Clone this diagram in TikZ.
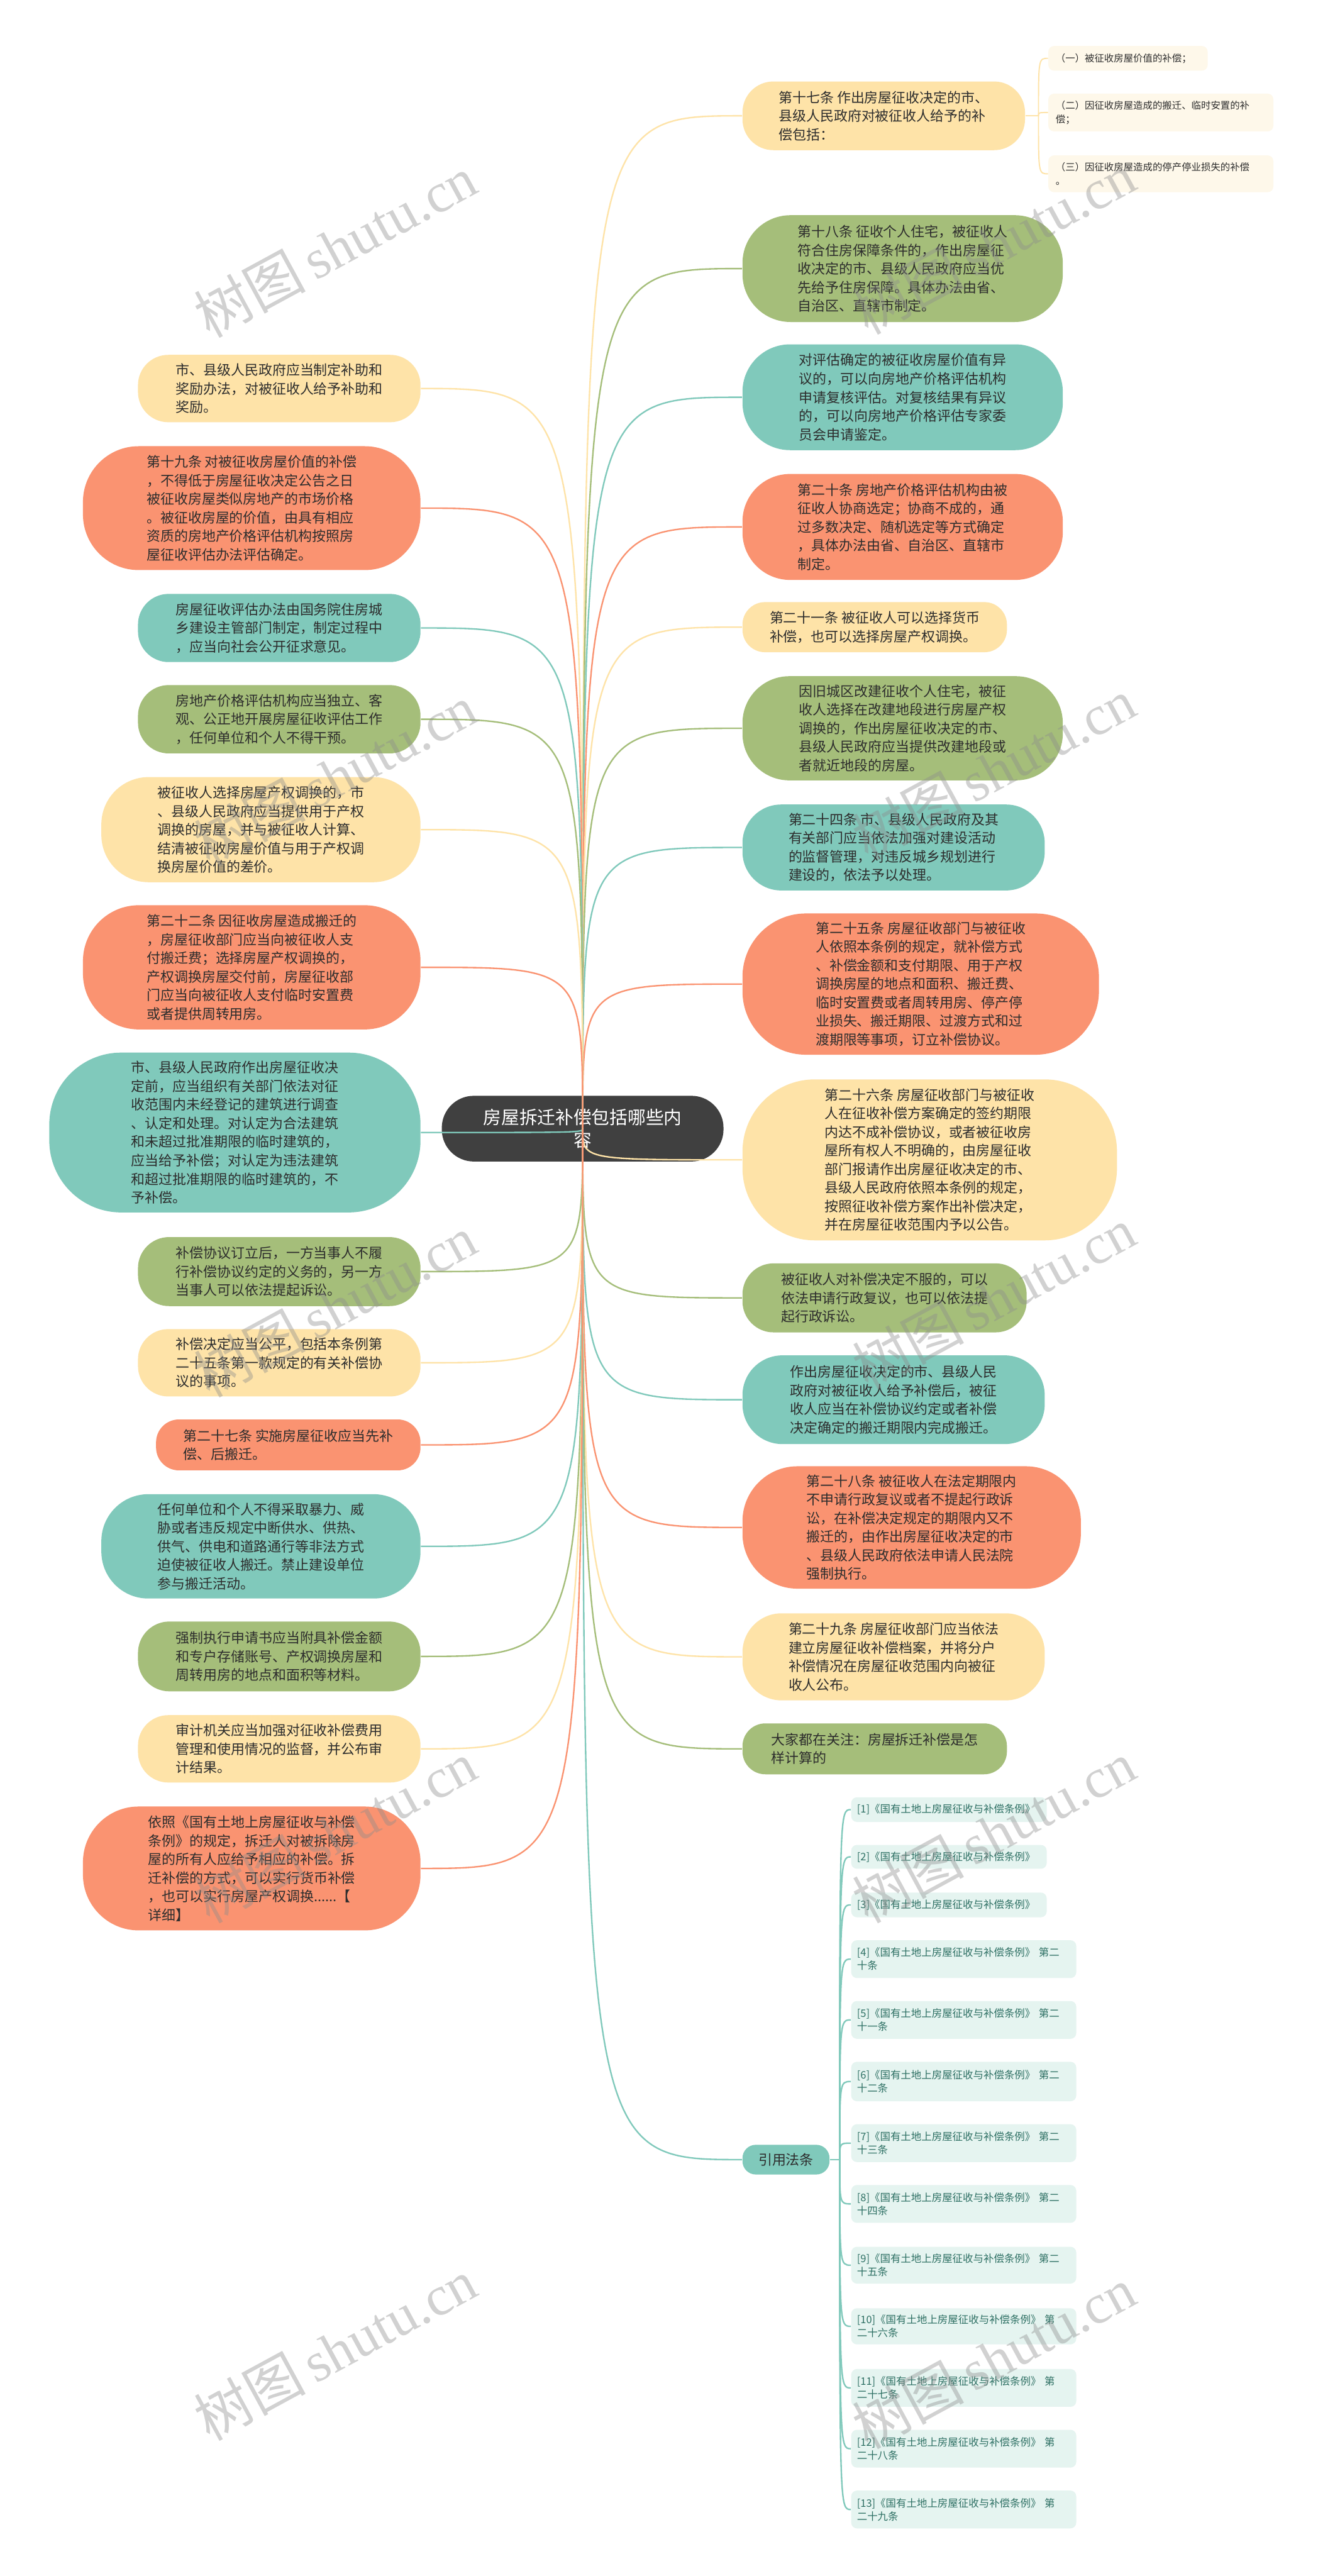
\documentclass[tikz,border=0pt]{standalone}
\usepackage{fontspec}
\setmainfont{Noto Sans CJK SC}
\newfontfamily\wmserif{Liberation Serif}
\usetikzlibrary{calc}
\definecolor{yel}{HTML}{FEE3A8}
\definecolor{grn}{HTML}{A5BE7A}
\definecolor{tea}{HTML}{80C9BB}
\definecolor{sal}{HTML}{FA9371}
\definecolor{rootc}{HTML}{404040}
\definecolor{txt}{HTML}{2D2D2D}
\definecolor{subfill}{HTML}{FEF8EA}
\definecolor{reffill}{HTML}{E5F4F0}
\definecolor{reftxt}{HTML}{2E7064}
\tikzset{
  bubble/.style={rectangle, inner sep=0pt, align=left, text=txt, font=\fontsize{8.4}{11.3}\selectfont},
  conn/.style={line width=0.9pt},
  subconn/.style={line width=0.75pt},
  refbox/.style={rectangle, rounded corners=3.5pt, fill=reffill, text=reftxt, align=left,
    font=\fontsize{6.3}{8}\selectfont, inner xsep=3.5pt, inner ysep=0pt, anchor=west},
  subbox/.style={rectangle, rounded corners=3.5pt, fill=subfill, text=txt, align=left,
    font=\fontsize{5.9}{8.4}\selectfont, inner xsep=4.5pt, inner ysep=0pt, anchor=west},
  wm/.style={rotate=28.5, text=black!45, opacity=0.4, inner sep=0pt}
}
\newcommand\bub[7]{%
  \pgfmathsetmacro\bubw{#3-#2}%
  \pgfmathsetmacro\bubh{#5-#4}%
  \pgfmathsetmacro\bubr{0.45*\bubh}%
  \pgfmathsetmacro\bubx{(#2+#3)/2}%
  \pgfmathsetmacro\buby{(#4+#5)/2}%
  \node[bubble, fill=#6, minimum width=\bubw pt, minimum height=\bubh pt, rounded corners=\bubr pt] (#1) at (\bubx,\buby) {#7};%
}
\newcommand\refn[5]{% name, top, bottom, right, text
  \pgfmathsetmacro\refw{#4-518-7}%
  \pgfmathsetmacro\refh{#3-#2}%
  \pgfmathsetmacro\refy{(#2+#3)/2}%
  \node[refbox, text width=\refw pt, minimum height=\refh pt] (#1) at (518,\refy) {#5};%
}
\begin{document}
\begin{tikzpicture}[x=1pt,y=-1pt]
\useasboundingbox (0,0) rectangle (802,1568);
\fill[white] (0,0) rectangle (802,1568);

% root
\node[rectangle, fill=rootc, text=white, rounded corners=19.5pt, minimum width=171.5pt, minimum height=40pt,
  inner sep=0pt, align=center, font=\fontsize{11}{13.6}\selectfont] (root) at (354.7,687) {房屋拆迁补偿包括哪些内\\容};

% right column
\bub{R1}{452}{624}{49.6}{91.4}{yel}{第十七条 作出房屋征收决定的市、\\县级人民政府对被征收人给予的补\\偿包括：}
\bub{R2}{452}{647}{131}{196}{grn}{第十八条 征收个人住宅，被征收人\\符合住房保障条件的，作出房屋征\\收决定的市、县级人民政府应当优\\先给予住房保障。具体办法由省、\\自治区、直辖市制定。}
\bub{R3}{452}{647}{209.6}{274}{tea}{对评估确定的被征收房屋价值有异\\议的，可以向房地产价格评估机构\\申请复核评估。对复核结果有异议\\的，可以向房地产价格评估专家委\\员会申请鉴定。}
\bub{R4}{452}{647}{288.5}{353}{sal}{第二十条 房地产价格评估机构由被\\征收人协商选定；协商不成的，通\\过多数决定、随机选定等方式确定\\，具体办法由省、自治区、直辖市\\制定。}
\bub{R5}{452}{613}{366.5}{397}{yel}{第二十一条 被征收人可以选择货币\\补偿，也可以选择房屋产权调换。}
\bub{R6}{452}{647}{411.6}{475}{grn}{因旧城区改建征收个人住宅，被征\\收人选择在改建地段进行房屋产权\\调换的，作出房屋征收决定的市、\\县级人民政府应当提供改建地段或\\者就近地段的房屋。}
\bub{R7}{452}{636}{489.7}{542}{tea}{第二十四条 市、县级人民政府及其\\有关部门应当依法加强对建设活动\\的监督管理，对违反城乡规划进行\\建设的，依法予以处理。}
\bub{R8}{452}{669}{556}{642}{sal}{第二十五条 房屋征收部门与被征收\\人依照本条例的规定，就补偿方式\\、补偿金额和支付期限、用于产权\\调换房屋的地点和面积、搬迁费、\\临时安置费或者周转用房、停产停\\业损失、搬迁期限、过渡方式和过\\渡期限等事项，订立补偿协议。}
\bub{R9}{452}{680}{657}{755}{yel}{第二十六条 房屋征收部门与被征收\\人在征收补偿方案确定的签约期限\\内达不成补偿协议，或者被征收房\\屋所有权人不明确的，由房屋征收\\部门报请作出房屋征收决定的市、\\县级人民政府依照本条例的规定，\\按照征收补偿方案作出补偿决定，\\并在房屋征收范围内予以公告。}
\bub{R10}{452}{625}{769}{811}{grn}{被征收人对补偿决定不服的，可以\\依法申请行政复议，也可以依法提\\起行政诉讼。}
\bub{R11}{452}{636}{825}{879}{tea}{作出房屋征收决定的市、县级人民\\政府对被征收人给予补偿后，被征\\收人应当在补偿协议约定或者补偿\\决定确定的搬迁期限内完成搬迁。}
\bub{R12}{452}{658}{892.5}{967}{sal}{第二十八条 被征收人在法定期限内\\不申请行政复议或者不提起行政诉\\讼，在补偿决定规定的期限内又不\\搬迁的，由作出房屋征收决定的市\\、县级人民政府依法申请人民法院\\强制执行。}
\bub{R13}{452}{636}{982}{1035}{yel}{第二十九条 房屋征收部门应当依法\\建立房屋征收补偿档案，并将分户\\补偿情况在房屋征收范围内向被征\\收人公布。}
\bub{R14}{452}{613}{1049}{1080}{grn}{大家都在关注：房屋拆迁补偿是怎\\样计算的}
\bub{R15}{452}{505}{1305.5}{1323.6}{tea}{引用法条}

% left column
\bub{L1}{84}{256}{216}{257}{yel}{市、县级人民政府应当制定补助和\\奖励办法，对被征收人给予补助和\\奖励。}
\bub{L2}{50.5}{256}{271.6}{347}{sal}{第十九条 对被征收房屋价值的补偿\\，不得低于房屋征收决定公告之日\\被征收房屋类似房地产的市场价格\\。被征收房屋的价值，由具有相应\\资质的房地产价格评估机构按照房\\屋征收评估办法评估确定。}
\bub{L3}{84}{256}{361.5}{403}{tea}{房屋征收评估办法由国务院住房城\\乡建设主管部门制定，制定过程中\\，应当向社会公开征求意见。}
\bub{L4}{84}{256}{417}{458.6}{grn}{房地产价格评估机构应当独立、客\\观、公正地开展房屋征收评估工作\\，任何单位和个人不得干预。}
\bub{L5}{61.7}{256}{473}{537}{yel}{被征收人选择房屋产权调换的，市\\、县级人民政府应当提供用于产权\\调换的房屋，并与被征收人计算、\\结清被征收房屋价值与用于产权调\\换房屋价值的差价。}
\bub{L6}{50.5}{256}{551}{626.6}{sal}{第二十二条 因征收房屋造成搬迁的\\，房屋征收部门应当向被征收人支\\付搬迁费；选择房屋产权调换的，\\产权调换房屋交付前，房屋征收部\\门应当向被征收人支付临时安置费\\或者提供周转用房。}
\bub{L7}{30}{256}{640.7}{738}{tea}{市、县级人民政府作出房屋征收决\\定前，应当组织有关部门依法对征\\收范围内未经登记的建筑进行调查\\、认定和处理。对认定为合法建筑\\和未超过批准期限的临时建筑的，\\应当给予补偿；对认定为违法建筑\\和超过批准期限的临时建筑的，不\\予补偿。}
\bub{L8}{84}{256}{753}{795}{grn}{补偿协议订立后，一方当事人不履\\行补偿协议约定的义务的，另一方\\当事人可以依法提起诉讼。}
\bub{L9}{84}{256}{809}{850}{yel}{补偿决定应当公平，包括本条例第\\二十五条第一款规定的有关补偿协\\议的事项。}
\bub{L10}{95}{256}{864}{895}{sal}{第二十七条 实施房屋征收应当先补\\偿、后搬迁。}
\bub{L11}{61.7}{256}{909.5}{973}{tea}{任何单位和个人不得采取暴力、威\\胁或者违反规定中断供水、供热、\\供气、供电和道路通行等非法方式\\迫使被征收人搬迁。禁止建设单位\\参与搬迁活动。}
\bub{L12}{84}{256}{987}{1029.5}{grn}{强制执行申请书应当附具补偿金额\\和专户存储账号、产权调换房屋和\\周转用房的地点和面积等材料。}
\bub{L13}{84}{256}{1044}{1085}{yel}{审计机关应当加强对征收补偿费用\\管理和使用情况的监督，并公布审\\计结果。}
\bub{L14}{50.5}{256}{1099.6}{1175}{sal}{依照《国有土地上房屋征收与补偿\\条例》的规定，拆迁人对被拆除房\\屋的所有人应给予相应的补偿。拆\\迁补偿的方式，可以实行货币补偿\\，也可以实行房屋产权调换......【\\详细】}

% sub-children of R1
\node[subbox, text width=88pt, minimum height=15pt] (S1) at (638,35.5) {（一）被征收房屋价值的补偿；};
\node[subbox, text width=128pt, minimum height=23pt] (S2) at (638,68.5) {（二）因征收房屋造成的搬迁、临时安置的补\\偿；};
\node[subbox, text width=128pt, minimum height=22.4pt] (S3) at (638,105.8) {（三）因征收房屋造成的停产停业损失的补偿\\。};

% references
\refn{F1}{1094}{1109}{637}{[1]《国有土地上房屋征收与补偿条例》}
\refn{F2}{1123}{1137.5}{637}{[2]《国有土地上房屋征收与补偿条例》}
\refn{F3}{1152}{1167}{637}{[3]《国有土地上房屋征收与补偿条例》}
\refn{F4}{1181}{1204}{655}{[4]《国有土地上房屋征收与补偿条例》 第二\\十条}
\refn{F5}{1218}{1241}{655}{[5]《国有土地上房屋征收与补偿条例》 第二\\十一条}
\refn{F6}{1255}{1279}{655}{[6]《国有土地上房屋征收与补偿条例》 第二\\十二条}
\refn{F7}{1293}{1316}{655}{[7]《国有土地上房屋征收与补偿条例》 第二\\十三条}
\refn{F8}{1330}{1353}{655}{[8]《国有土地上房屋征收与补偿条例》 第二\\十四条}
\refn{F9}{1367.6}{1390}{655}{[9]《国有土地上房屋征收与补偿条例》 第二\\十五条}
\refn{F10}{1405}{1427}{655}{[10]《国有土地上房屋征收与补偿条例》 第\\二十六条}
\refn{F11}{1442}{1465}{655}{[11]《国有土地上房屋征收与补偿条例》 第\\二十七条}
\refn{F12}{1479}{1502}{655}{[12]《国有土地上房屋征收与补偿条例》 第\\二十八条}
\refn{F13}{1516}{1539}{655}{[13]《国有土地上房屋征收与补偿条例》 第\\二十九条}

% connectors root -> right
\foreach \n/\c in {R1/yel,R2/grn,R3/tea,R4/sal,R5/yel,R6/grn,R7/tea,R8/sal,R9/yel,R10/grn,R11/tea,R12/sal,R13/yel,R14/grn,R15/tea}{
  \draw[conn,\c] (root.center) .. controls (root.center |- \n.west) .. (\n.west);
}
% connectors root -> left
\foreach \n/\c in {L1/yel,L2/sal,L3/tea,L4/grn,L5/yel,L6/sal,L7/tea,L8/grn,L9/yel,L10/sal,L11/tea,L12/grn,L13/yel,L14/sal}{
  \draw[conn,\c] (root.center) .. controls (root.center |- \n.east) .. (\n.east);
}

% R1 sub connectors
\coordinate (j1) at ($(R1.east)+(8,0)$);
\draw[subconn,yel] (R1.east) -- (j1);
\foreach \n in {S1,S2,S3}{
  \draw[subconn,yel] (j1) .. controls (j1 |- \n.west) .. (\n.west);
}
% reference connectors
\coordinate (j2) at ($(R15.east)+(6,0)$);
\draw[conn,tea] (R15.east) -- (j2);
\foreach \n in {F1,F2,F3,F4,F5,F6,F7,F8,F9,F10,F11,F12,F13}{
  \draw[conn,tea] (j2) .. controls (j2 |- \n.west) .. (\n.west);
}

% watermarks
\foreach \wx/\wy [count=\i] in {204/150,605/148,204/472,605/468,204/795,605/790,204/1115,605/1115,204/1430,605/1435}{
  \node[wm] (wm\i) at (\wx,\wy) {\fontsize{34}{34}\selectfont 树图\,{\wmserif shutu.cn}};
}
\end{tikzpicture}
\end{document}
